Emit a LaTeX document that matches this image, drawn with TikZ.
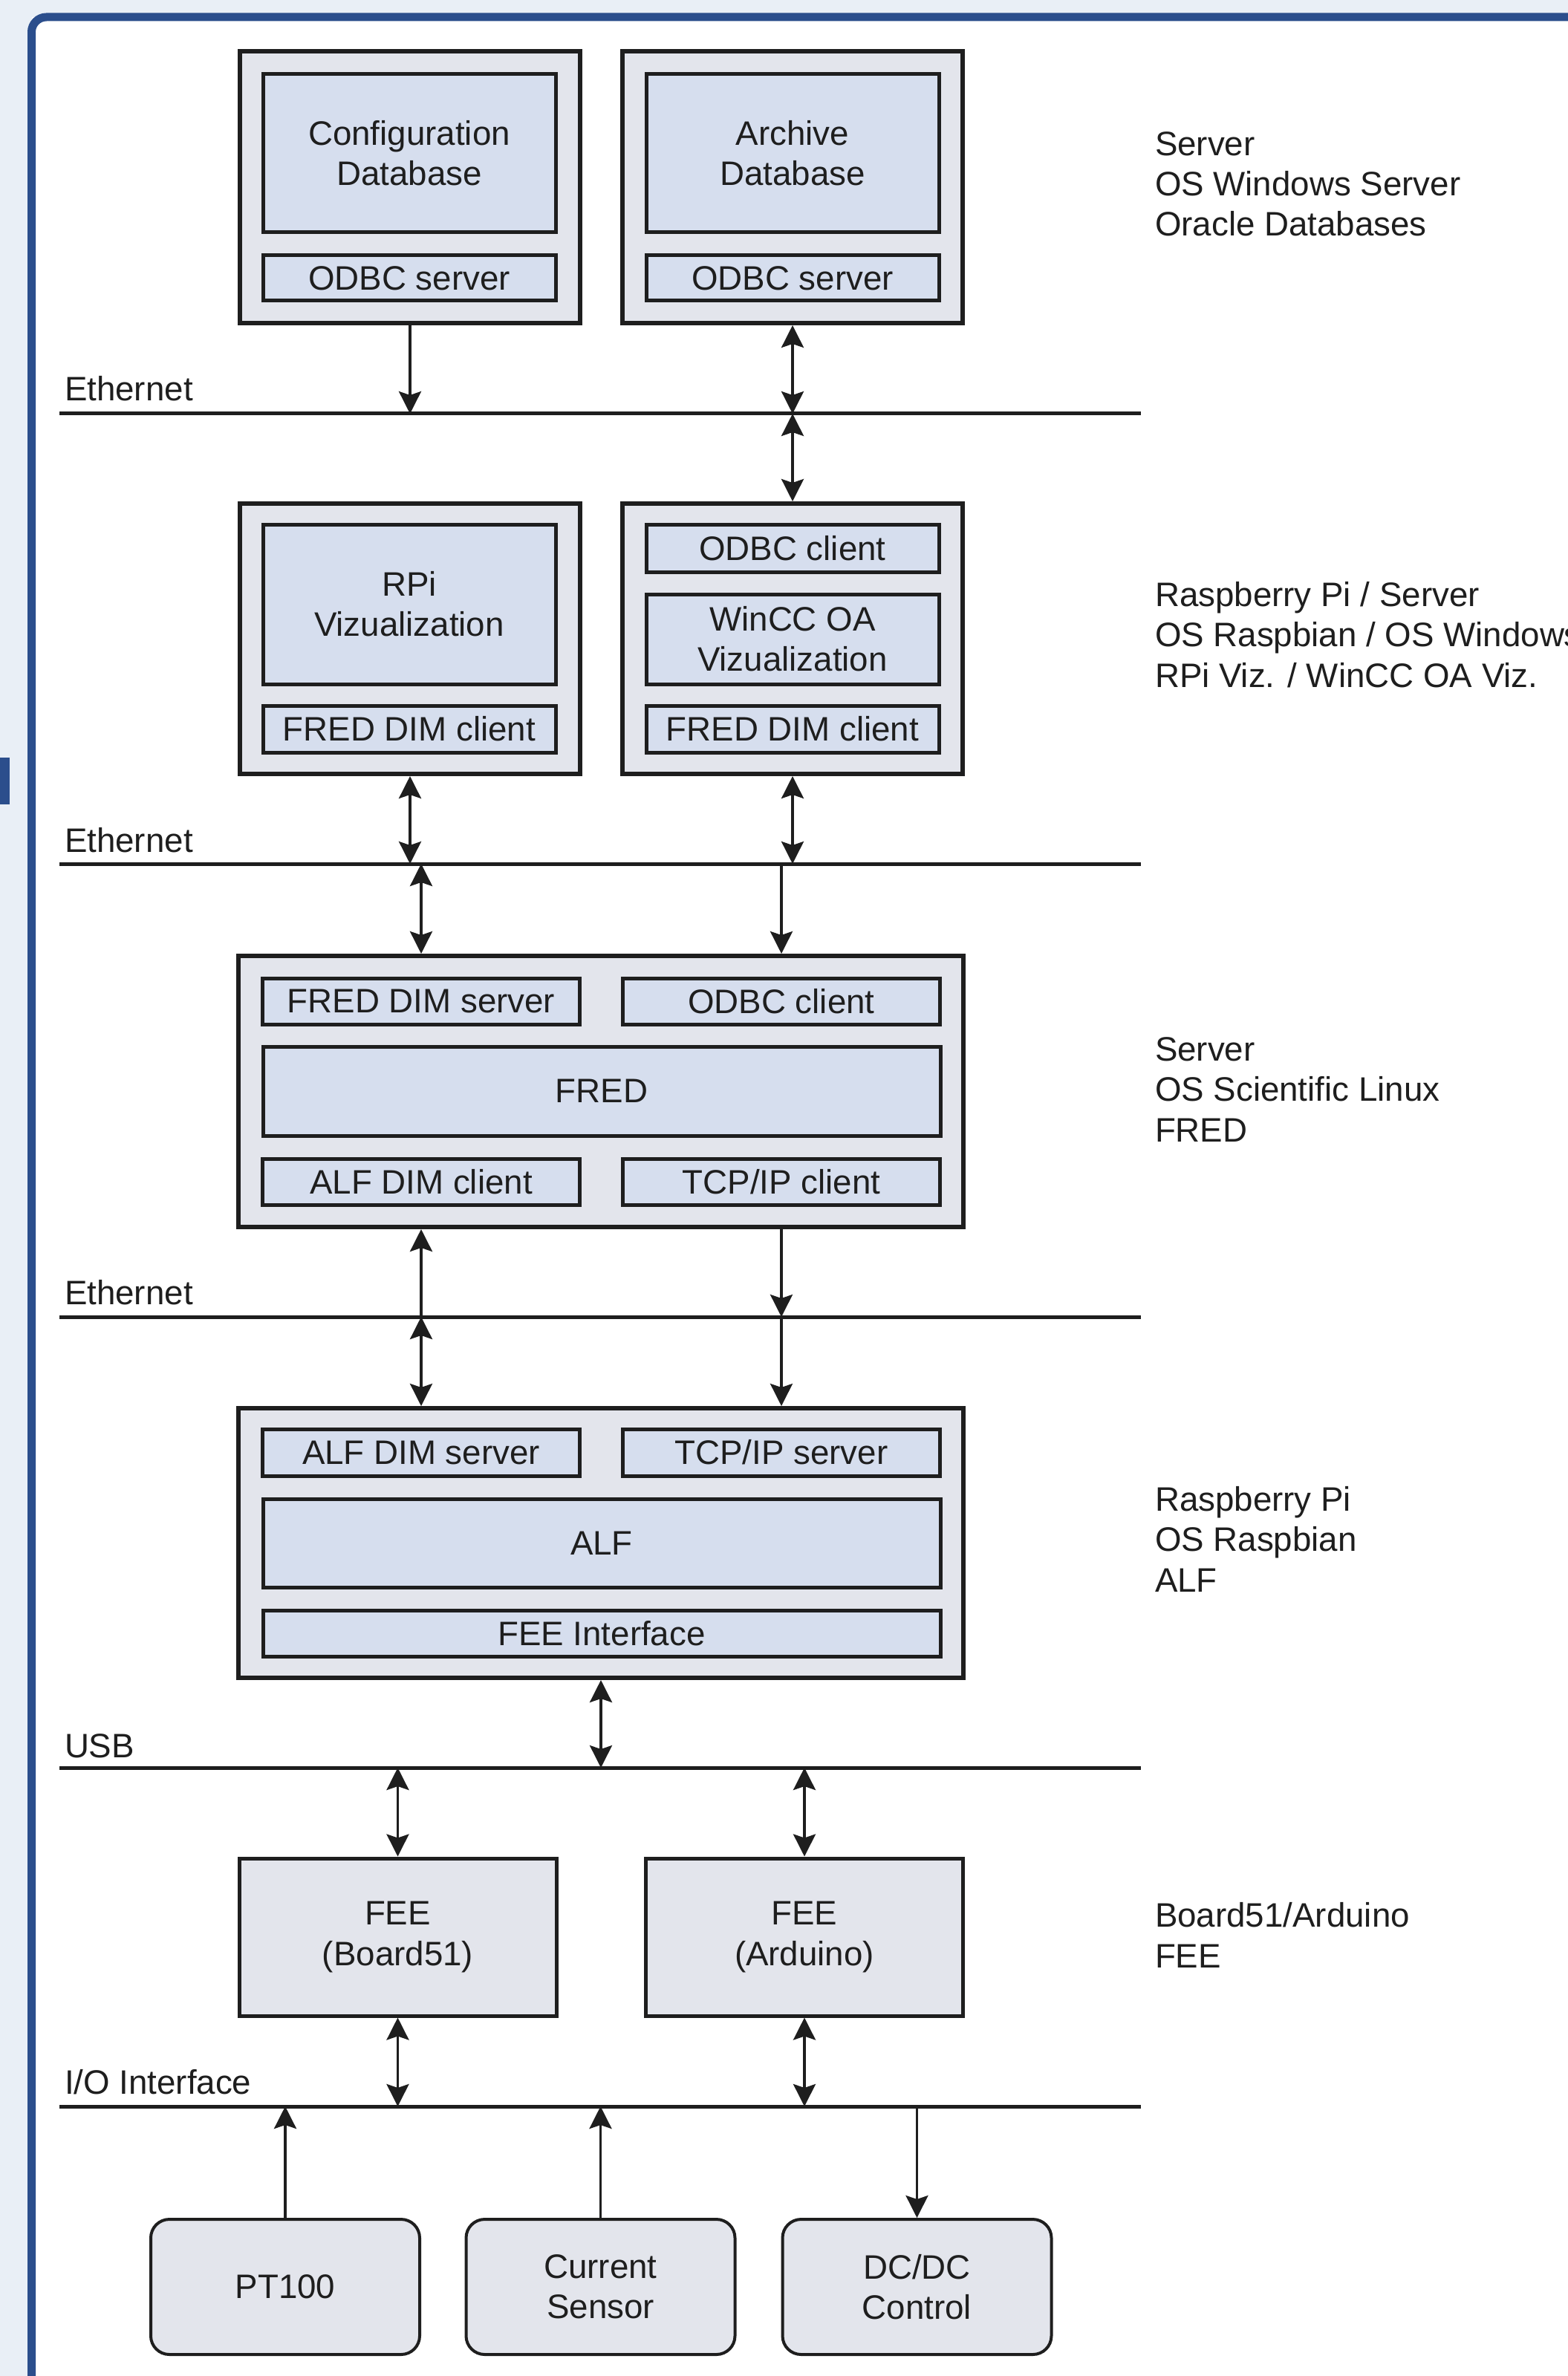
\documentclass[tikz,border=0pt]{standalone}
\usepackage{fontspec}
\setmainfont{Liberation Sans}
\usetikzlibrary{arrows.meta}
\definecolor{hostgray}{HTML}{E3E5EC}
\definecolor{modblue}{HTML}{D6DEEE}
\definecolor{frameblue}{HTML}{2B4E8C}
\definecolor{pagetint}{HTML}{E9EFF6}
\definecolor{ink}{HTML}{1E1E1E}

\begin{document}
\begin{tikzpicture}[line width=0.2mm, font=\fontsize{13}{15.4}\selectfont, text=ink,
    host/.style={draw=ink, line width=0.6mm, fill=hostgray, inner sep=0pt},
    modul/.style={draw=ink, line width=0.5mm, fill=modblue, align=center, inner sep=0pt},
    fee/.style={draw=ink, line width=0.5mm, fill=hostgray, align=center, inner sep=0pt,
        minimum width=4.27cm, minimum height=2.12cm},
    sensor/.style={draw=ink, line width=0.4mm, fill=hostgray, align=center, inner sep=0pt,
        rounded corners=2.5mm, minimum width=3.62cm, minimum height=1.82cm},
    bus/.style={draw=ink, line width=0.5mm},
    buslabel/.style={anchor=base west, inner sep=0pt},
    side/.style={anchor=base west, align=left, inner sep=0pt},
    lnk/.style={draw=ink, line width=0.35mm, -{Stealth[length=3mm,width=3mm,inset=0.5mm]}},
    dlnk/.style={draw=ink, line width=0.35mm, {Stealth[length=3mm,width=3mm,inset=0.5mm]}-{Stealth[length=3mm,width=3mm,inset=0.5mm]}}]

    \useasboundingbox (0,0) rectangle (21.11,-31.99);
    \fill[pagetint] (0,0) rectangle (21.11,-31.99);
    \fill[white] (0.425,-0.23) rectangle (21.11,-31.99);
    \draw[frameblue, line width=1.1mm, rounded corners=2mm] (0.425,-31.99) -- (0.425,-0.23) -- (21.11,-0.23);
    \fill[frameblue] (0,-10.20) rectangle (0.13,-10.83);

    % server: databases
    \node[host, minimum width=4.58cm, minimum height=3.66cm] (cfg) at (5.52,-2.52) {};
    \node[modul, minimum width=3.94cm, minimum height=2.13cm] (cfgdb) at (5.51,-2.065) {Configuration\\Database};
    \node[modul, minimum width=3.94cm, minimum height=0.61cm] (cfgodbc) at (5.51,-3.745) {ODBC server};
    \node[host, minimum width=4.58cm, minimum height=3.66cm] (arc) at (10.67,-2.52) {};
    \node[modul, minimum width=3.94cm, minimum height=2.13cm] (arcdb) at (10.67,-2.065) {Archive\\Database};
    \node[modul, minimum width=3.94cm, minimum height=0.61cm] (arcodbc) at (10.67,-3.745) {ODBC server};

    % visualization
    \node[host, minimum width=4.58cm, minimum height=3.64cm] (rpi) at (5.52,-8.60) {};
    \node[modul, minimum width=3.94cm, minimum height=2.15cm] (rpiviz) at (5.51,-8.135) {RPi\\Vizualization};
    \node[modul, minimum width=3.94cm, minimum height=0.63cm] (rpidim) at (5.51,-9.815) {FRED DIM client};
    \node[host, minimum width=4.58cm, minimum height=3.64cm] (win) at (10.67,-8.60) {};
    \node[modul, minimum width=3.94cm, minimum height=0.64cm] (winodbc) at (10.67,-7.38) {ODBC client};
    \node[modul, minimum width=3.94cm, minimum height=1.21cm] (winviz) at (10.67,-8.605) {WinCC OA\\Vizualization};
    \node[modul, minimum width=3.94cm, minimum height=0.63cm] (windim) at (10.67,-9.815) {FRED DIM client};

    % FRED
    \node[host, minimum width=9.76cm, minimum height=3.65cm] (fred) at (8.09,-14.695) {};
    \node[modul, minimum width=4.27cm, minimum height=0.62cm] (fdimsrv) at (5.67,-13.48) {FRED DIM server};
    \node[modul, minimum width=4.27cm, minimum height=0.62cm] (fodbc) at (10.52,-13.48) {ODBC client};
    \node[modul, minimum width=9.12cm, minimum height=1.20cm] (fcore) at (8.10,-14.69) {FRED};
    \node[modul, minimum width=4.27cm, minimum height=0.62cm] (falfcl) at (5.67,-15.91) {ALF DIM client};
    \node[modul, minimum width=4.27cm, minimum height=0.62cm] (ftcpcl) at (10.52,-15.91) {TCP/IP client};

    % ALF
    \node[host, minimum width=9.76cm, minimum height=3.63cm] (alf) at (8.09,-20.775) {};
    \node[modul, minimum width=4.27cm, minimum height=0.63cm] (adimsrv) at (5.67,-19.555) {ALF DIM server};
    \node[modul, minimum width=4.27cm, minimum height=0.63cm] (atcpsrv) at (10.52,-19.555) {TCP/IP server};
    \node[modul, minimum width=9.12cm, minimum height=1.19cm] (acore) at (8.10,-20.775) {ALF};
    \node[modul, minimum width=9.12cm, minimum height=0.62cm] (afee) at (8.10,-21.99) {FEE Interface};

    % front-end and sensors
    \node[fee] (feeb) at (5.355,-26.08) {FEE\\(Board51)};
    \node[fee] (feea) at (10.83,-26.08) {FEE\\(Arduino)};
    \node[sensor] (pt) at (3.84,-30.79) {PT100};
    \node[sensor] (cur) at (8.085,-30.79) {Current\\Sensor};
    \node[sensor] (dcdc) at (12.345,-30.79) {DC/DC\\Control};

    % buses
    \coordinate (eth1w) at (0.80,-5.57);  \coordinate (eth1e) at (15.36,-5.57);
    \coordinate (eth2w) at (0.80,-11.63); \coordinate (eth2e) at (15.36,-11.63);
    \coordinate (eth3w) at (0.80,-17.73); \coordinate (eth3e) at (15.36,-17.73);
    \coordinate (usbw) at (0.80,-23.80);  \coordinate (usbe) at (15.36,-23.80);
    \coordinate (iow) at (0.80,-28.36);   \coordinate (ioe) at (15.36,-28.36);
    \draw[bus] (eth1w) -- (eth1e);
    \draw[bus] (eth2w) -- (eth2e);
    \draw[bus] (eth3w) -- (eth3e);
    \draw[bus] (usbw) -- (usbe);
    \draw[bus] (iow) -- (ioe);
    \node[buslabel] (eth1lab) at (0.86,-5.40) {Ethernet};
    \node[buslabel] (eth2lab) at (0.86,-11.47) {Ethernet};
    \node[buslabel] (eth3lab) at (0.86,-17.56) {Ethernet};
    \node[buslabel] (usblab) at (0.86,-23.66) {USB};
    \node[buslabel] (iolab) at (0.86,-28.19) {I/O Interface};

    % links
    \draw[lnk] (cfg.south) -- (cfg.south |- eth1w);
    \draw[dlnk] (arc.south) -- (arc.south |- eth1w);
    \draw[dlnk] (arc.south |- eth1w) -- (win.north);
    \draw[dlnk] (rpi.south) -- (rpi.south |- eth2w);
    \draw[dlnk] (win.south) -- (win.south |- eth2w);
    \draw[dlnk] (fdimsrv.center |- eth2w) -- (fdimsrv.center |- fred.north);
    \draw[lnk] (fodbc.center |- eth2w) -- (fodbc.center |- fred.north);
    \draw[lnk] (falfcl.center |- eth3w) -- (falfcl.center |- fred.south);
    \draw[lnk] (ftcpcl.center |- fred.south) -- (ftcpcl.center |- eth3w);
    \draw[dlnk] (adimsrv.center |- eth3w) -- (adimsrv.center |- alf.north);
    \draw[lnk] (atcpsrv.center |- eth3w) -- (atcpsrv.center |- alf.north);
    \draw[dlnk] (alf.south) -- (alf.south |- usbw);
    \draw[dlnk] (feeb.north |- usbw) -- (feeb.north);
    \draw[dlnk] (feea.north |- usbw) -- (feea.north);
    \draw[dlnk] (feeb.south) -- (feeb.south |- iow);
    \draw[dlnk] (feea.south) -- (feea.south |- iow);
    \draw[lnk] (pt.north) -- (pt.north |- iow);
    \draw[lnk] (cur.north) -- (cur.north |- iow);
    \draw[lnk] (dcdc.north |- iow) -- (dcdc.north);

    % platforms (base = last line)
    \node[side] (sidesrv) at (15.54,-3.18) {Server\\OS Windows Server\\Oracle Databases};
    \node[side] (siderpi) at (15.54,-9.25) {Raspberry Pi / Server\\OS Raspbian / OS Windows\\RPi Viz. / WinCC OA Viz.};
    \node[side] (sidefred) at (15.54,-15.37) {Server\\OS Scientific Linux\\FRED};
    \node[side] (sidealf) at (15.54,-21.43) {Raspberry Pi\\OS Raspbian\\ALF};
    \node[side] (sidefee) at (15.54,-26.49) {Board51/Arduino\\FEE};
\end{tikzpicture}
\end{document}
